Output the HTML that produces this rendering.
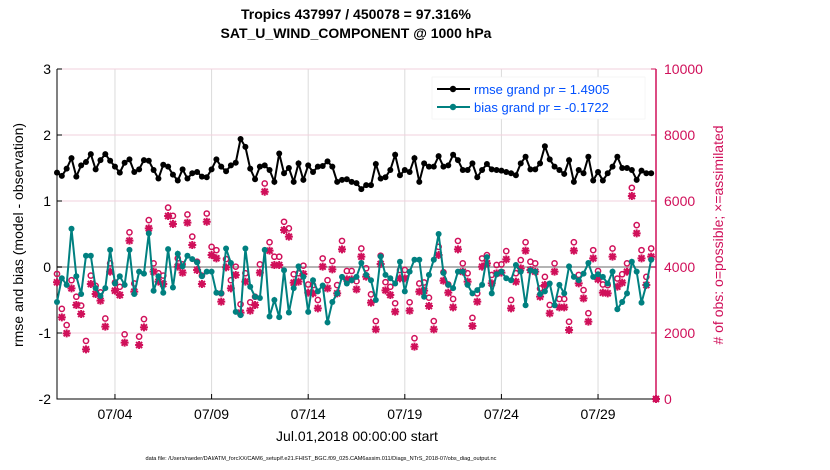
<!DOCTYPE html>
<html><head><meta charset="utf-8"><style>
body{margin:0;background:#fff;}
svg{display:block;font-family:"Liberation Sans",Arial,sans-serif;}
</style></head><body>
<svg id="chart" width="830" height="470" viewBox="0 0 830 470">
<rect width="830" height="470" fill="#fff"/>
<text x="356" y="19" text-anchor="middle" font-size="14" font-weight="bold">Tropics 437997 / 450078 = 97.316%</text>
<text x="356" y="38" text-anchor="middle" font-size="14" font-weight="bold">SAT_U_WIND_COMPONENT @ 1000 hPa</text>
<g id="grid"></g>
<g id="axes"></g>
<g id="series"></g>
<text transform="translate(23,235) rotate(-90)" text-anchor="middle" font-size="14">rmse and bias (model - observation)</text>
<text transform="translate(723,235) rotate(-90)" text-anchor="middle" font-size="14" fill="#d0105a"># of obs: o=possible; ×=assimilated</text>
<text x="357" y="441" text-anchor="middle" font-size="14">Jul.01,2018 00:00:00 start</text>
<text x="321" y="460" text-anchor="middle" font-size="5.6">data file: /Users/raeder/DAI/ATM_forcXX/CAM6_setup/f.e21.FHIST_BGC.f09_025.CAM6assim.011/Diags_NTrS_2018-07/obs_diag_output.nc</text>
<g>
<rect x="432" y="77" width="213" height="42" fill="#fff" stroke="#eee" stroke-width="0.5"/>
<line x1="437" y1="89" x2="470" y2="89" stroke="#000" stroke-width="2"/><circle cx="453" cy="89" r="3.2" fill="#000"/>
<text x="474" y="94" font-size="13" fill="#0050ff">rmse grand pr = 1.4905</text>
<line x1="437" y1="107" x2="470" y2="107" stroke="#008080" stroke-width="2"/><circle cx="453" cy="107" r="3.2" fill="#008080"/>
<text x="474" y="112" font-size="13" fill="#0050ff">bias grand pr = -0.1722</text>
</g>
</svg>
<script>
const rmse=[1.43,1.38,1.49,1.65,1.37,1.54,1.59,1.71,1.48,1.62,1.71,1.61,1.52,1.43,1.58,1.63,1.44,1.48,1.62,1.61,1.47,1.34,1.55,1.52,1.40,1.31,1.48,1.34,1.42,1.44,1.37,1.36,1.48,1.63,1.52,1.45,1.54,1.58,1.94,1.82,1.49,1.33,1.52,1.54,
1.47,1.29,1.72,1.42,1.50,1.29,1.57,1.32,1.54,1.44,1.52,1.53,1.60,1.52,1.29,1.32,1.33,1.29,1.27,1.18,1.24,1.24,1.56,1.34,1.36,1.47,1.70,1.39,1.47,1.44,1.65,1.29,1.57,1.52,1.52,1.68,1.52,1.54,1.70,1.62,1.47,
1.47,1.57,1.36,1.47,1.56,1.48,1.47,1.46,1.44,1.42,1.39,1.57,1.67,1.48,1.48,1.57,1.83,1.63,1.52,1.47,1.41,1.62,1.29,1.47,1.42,1.67,1.31,1.44,1.31,1.42,1.52,1.67,1.50,1.50,1.47,1.32,1.46,1.42,1.42];
const bias=[-0.53,-0.17,-0.27,0.58,-0.14,-0.41,0.17,0.17,-0.32,-0.44,-0.32,0.26,-0.25,-0.14,-0.27,0.26,-0.41,-0.07,-0.10,0.51,-0.36,-0.14,-0.39,0.27,-0.31,0.20,0.01,0.17,0.12,0.07,-0.14,-0.07,-0.07,-0.39,-0.40,0.28,0.06,-0.68,-0.73,0.28,-0.30,-0.45,-0.47,0.26,
-0.75,-0.50,-0.76,-0.05,-0.69,-0.32,0.01,-0.15,-0.68,-0.20,-0.37,-0.28,-0.84,-0.53,-0.40,-0.15,-0.25,-0.20,-0.15,0.06,-0.12,-0.20,-0.50,0.16,-0.12,-0.17,-0.25,0.08,-0.37,-0.07,0.11,0.11,-0.45,-0.12,0.11,0.50,-0.09,-0.27,-0.32,-0.07,-0.07,
-0.27,-0.40,-0.35,-0.27,0.15,-0.40,-0.11,-0.07,-0.17,-0.20,0.03,-0.07,-0.58,-0.05,-0.07,-0.41,-0.37,-0.25,-0.58,-0.27,-0.40,0.01,-0.15,-0.20,-0.10,0.06,-0.15,-0.11,-0.15,-0.25,-0.07,-0.64,-0.53,-0.40,0.08,-0.07,-0.54,-0.27,0.11];
const nAssim=[3536,2475,1990,3354,2848,2576,1505,3485,3182,2980,2192,3858,3283,3151,1707,4798,3253,1636,2172,5171,3858,3556,3485,5545,5303,4010,3828,5343,4666,3909,3485,5373,4363,4262,2949,3990,3354,3757,2616,3556,2677,2848,3828,6282,
4495,4060,4060,5121,4919,3525,3556,3788,3222,3202,2747,4010,3354,3929,3202,4535,3626,3626,3323,4313,3707,2919,2111,4091,3293,3151,2646,3656,3656,2677,1586,3253,3283,2818,2111,4363,3586,3222,2778,4535,3858,
3556,2212,2949,4010,4111,3505,3808,3828,4232,2747,3556,3959,4495,3909,3858,3101,3454,2596,3858,2778,2778,2091,4495,3505,3050,2343,4262,3626,3222,3202,4313,3404,3525,3858,6151,5020,4262,3454,4313,0];
const nPoss=[3790,2730,2240,3600,3100,2830,1760,3740,3430,3230,2440,4110,3530,3400,1960,5050,3500,1890,2420,5420,4110,3810,3740,5800,5550,4260,4080,5590,4920,4160,3740,5620,4610,4510,3200,4240,3600,4010,2870,3810,2930,3100,4080,6530,
4750,4310,4310,5370,5170,3780,3810,4040,3470,3450,3000,4260,3600,4180,3450,4790,3880,3880,3570,4560,3960,3170,2360,4340,3540,3400,2900,3910,3910,2930,1840,3500,3530,3070,2360,4610,3840,3470,3030,4790,4110,
3810,2460,3200,4260,4360,3760,4060,4080,4480,3000,3810,4210,4750,4160,4110,3350,3700,2850,4110,3030,3030,2340,4750,3760,3300,2600,4510,3880,3470,3450,4560,3650,3780,4110,6400,5270,4510,3700,4560,0];
const xTickDays=[3,8,13,18,23,28];
const xTickLabels=["07/04","07/09","07/14","07/19","07/24","07/29"];
const yTicks=[-2,-1,0,1,2,3];
const y2Ticks=[0,2000,4000,6000,8000,10000];
const stepDays=0.25;

const NS="http://www.w3.org/2000/svg";
const L=57,R=656,T=69,B=399;
const x=d=>L+(d/31)*(R-L);
const y=v=>B-(v+2)/5*(B-T);
const y2=v=>B-v/10000*(B-T);
function mk(tag,attrs,parent,txt){const e=document.createElementNS(NS,tag);for(const k in attrs)e.setAttribute(k,attrs[k]);if(txt!==undefined)e.textContent=txt;parent.appendChild(e);return e;}
const grid=document.getElementById('grid'),axes=document.getElementById('axes'),ser=document.getElementById('series');

xTickDays.forEach((d,i)=>{
  const g=mk('line',{x1:x(d),x2:x(d),y1:T,y2:B,stroke:'#dcdcdc','stroke-width':1},grid);
  
  
  const t=mk('line',{x1:x(d),x2:x(d),y1:B,y2:B-5,stroke:'#000'},axes);
  
  
  const l=mk('text',{x:x(d),y:B+20,'text-anchor':'middle','font-size':14},axes,xTickLabels[i]);
  
  
});
y2Ticks.forEach(v=>{
  const g=mk('line',{x1:L,x2:R,y1:y2(v),y2:y2(v),stroke:'#f2d0dc','stroke-width':1},grid);
  
  
  const t=mk('line',{x1:R,x2:R-5,y1:y2(v),y2:y2(v),stroke:'#d0105a'},axes);
  
  
  const l=mk('text',{x:R+8,y:y2(v)+5,'font-size':14,fill:'#d0105a'},axes,String(v));
  
  
});
yTicks.forEach(v=>{
  const t=mk('line',{x1:L,x2:L+5,y1:y(v),y2:y(v),stroke:'#000'},axes);
  
  
  const l=mk('text',{x:L-6,y:y(v)+5,'text-anchor':'end','font-size':14},axes,String(v));
  
  
});
const zl=mk('line',{x1:L,x2:R,y1:y(0),y2:y(0),stroke:'#b4b4b4','stroke-width':2},grid);


const ax1=mk('path',{d:`M${L},${T}V${B}H${R}`,fill:'none',stroke:'#000','stroke-width':1},axes);


const ax2=mk('line',{x1:R,x2:R,y1:T,y2:B,stroke:'#d0105a','stroke-width':1.5},axes);



const gObs=mk('g',{},ser);
nPoss.forEach((v,i)=>{
  const c=mk('circle',{cx:x(i*stepDays),cy:y2(v),r:2.6,fill:'none',stroke:'#d0105a','stroke-width':1.5},gObs);
  
  
});
nAssim.forEach((v,i)=>{
  const cx=x(i*stepDays),cy=y2(v),s=4;
  const p=mk('path',{d:`M${cx-s},${cy}H${cx+s}M${cx},${cy-s}V${cy+s}M${cx-3},${cy-3}L${cx+3},${cy+3}M${cx-3},${cy+3}L${cx+3},${cy-3}`,stroke:'#d0105a','stroke-width':2},gObs);
  
  
});
function line(arr,color,name){
  const pl=mk('polyline',{points:arr.map((v,i)=>x(i*stepDays)+','+y(v)).join(' '),fill:'none',stroke:color,'stroke-width':2},ser);
  
  
  arr.forEach((v,i)=>{
    const c=mk('circle',{cx:x(i*stepDays),cy:y(v),r:3,fill:color},ser);
    
    
  });
}
line(bias,'#008080','bias');
line(rmse,'#000000','rmse');
</script>
</body></html>
